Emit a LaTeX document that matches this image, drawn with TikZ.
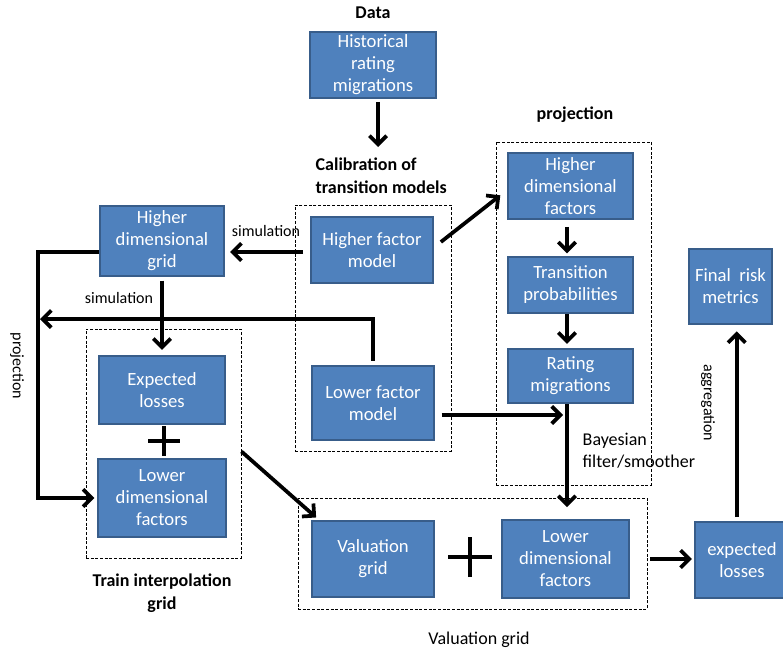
\documentclass[tikz,border=0pt]{standalone}
\usepackage{fontspec}
\setmainfont{Carlito}
\usetikzlibrary{arrows.meta}
\definecolor{blkfill}{RGB}{79,129,189}
\definecolor{blkedge}{RGB}{56,93,138}

\begin{document}
\begin{tikzpicture}[x=0.75pt,y=-0.75pt,
    blk/.style={draw=blkedge,fill=blkfill,line width=1.3pt,text=white,align=center,
        inner sep=0pt,font=\fontsize{14}{16.5}\selectfont},
    grp/.style={draw,dash pattern=on 2.2pt off 1.3pt,line width=0.7pt,inner sep=0pt},
    flow/.style={line width=2.8pt,-{Straight Barb[length=6.5pt,width=13pt]}},
    ttl/.style={font=\bfseries\fontsize{13.5}{17}\selectfont,align=left},
    lbl/.style={font=\fontsize{12}{14}\selectfont},
    txt/.style={font=\fontsize{13.5}{16.5}\selectfont,align=left}]
\useasboundingbox (0,0) rectangle (783,653);

% data and calibration
\node[ttl] (data) at (373,13) {Data};
\node[blk,minimum width=94pt,minimum height=50pt] (hist) at (373,65) {Historical\\rating\\migrations};
\node[ttl,anchor=west] (calt) at (311,176) {Calibration of\\transition models};
\node[grp,minimum width=117pt,minimum height=184.5pt] (cal) at (373,328) {};
\node[blk,minimum width=92pt,minimum height=50pt] (hfm) at (372,250) {Higher factor\\model};
\node[blk,minimum width=91.5pt,minimum height=56pt] (lfm) at (373,403) {Lower factor\\model};

% projection
\node[ttl] (projt) at (575,115) {projection};
\node[grp,minimum width=116.25pt,minimum height=257.25pt] (proj) at (573.5,313.5) {};
\node[blk,minimum width=94pt,minimum height=50pt] (hdf) at (570.5,186) {Higher\\dimensional\\factors};
\node[blk,minimum width=94pt,minimum height=42pt] (tp) at (570.5,285) {Transition\\probabilities};
\node[blk,minimum width=94pt,minimum height=41pt] (rm) at (570.5,376) {Rating\\migrations};
\coordinate (jn) at (567,415);
\node[txt,anchor=west] (bayes) at (578,451) {Bayesian\\filter/smoother};

% train interpolation grid
\node[blk,minimum width=93pt,minimum height=52pt] (hdg) at (162,241) {Higher\\dimensional\\grid};
\node[lbl] (sim1) at (266,231) {simulation};
\node[lbl] (sim2) at (119,298) {simulation};
\node[lbl,rotate=-90] (projl) at (17,366) {projection};
\coordinate (pl) at (38,252);
\coordinate (fb) at (40,319);
\node[grp,minimum width=116.25pt,minimum height=171.75pt] (train) at (163.5,443.5) {};
\node[blk,minimum width=94pt,minimum height=51pt] (el) at (162,390) {Expected\\losses};
\node[blk,minimum width=96pt,minimum height=58.5pt] (ldf) at (162,498) {Lower\\dimensional\\factors};
\coordinate (p1) at (164,441);
\node[ttl,align=center] (traint) at (162,593) {Train interpolation\\grid};

% valuation
\node[grp,minimum width=261.75pt,minimum height=83.25pt] (val) at (472.5,553.5) {};
\node[blk,minimum width=92pt,minimum height=57pt] (vg) at (373,559) {Valuation\\grid};
\node[blk,minimum width=95pt,minimum height=58.5pt] (ldfb) at (565.5,559) {Lower\\dimensional\\factors};
\coordinate (p2) at (470,557);
\node[txt] (valt) at (479,640) {Valuation grid};
\node[blk,minimum width=71pt,minimum height=57pt] (exl) at (742,560) {expected\\losses};
\node[blk,minimum width=62pt,minimum height=56pt] (frm) at (730.5,286.5) {Final\ \ risk\\metrics};
\node[lbl,rotate=-90] (aggl) at (708,403) {aggregation};

\draw[flow,shorten <=2pt] (hist.south -| 378,0) -- (378,147);
\draw[flow,shorten <=5pt,shorten >=4pt] (hfm.west |- 0,252) -- (hdg.east |- 0,252);
\draw[flow] ([xshift=5pt,yshift=6pt]hfm.east) -- ([xshift=-5pt,yshift=-7pt]hdf.west);
\draw[flow,shorten <=3pt,shorten >=4pt] (hdg.south) -- (el.north);
\draw[flow,shorten >=2pt] (hdg.west |- pl) -- (pl) |- (ldf.west);
\draw[flow] ([yshift=3pt]lfm.north) |- (fb);
\draw[flow,shorten <=5pt,shorten >=2pt] (hdf.south -| jn) -- (tp.north -| jn);
\draw[flow,shorten >=3pt] (tp.south -| jn) -- (rm.north -| jn);
\draw[flow] ([xshift=5pt]lfm.east |- jn) -- ([xshift=-3pt]jn);
\draw[flow] (rm.south -| jn) -- ([yshift=9pt]ldfb.north -| jn);
\draw[flow] ([yshift=-6pt]train.east) -- ([xshift=4pt,yshift=2pt]vg.north west);
\draw[flow,shorten <=2pt,shorten >=1.5pt] (ldfb.east -| val.east) -- (ldfb.east -| exl.west);
\draw[flow,shorten <=3pt,shorten >=5pt] ([xshift=-4pt]exl.north) -- ([xshift=-4pt]exl.north |- frm.south);
\draw[line width=3.2pt] ([xshift=-12pt]p1) -- ([xshift=12pt]p1) ([yshift=-11pt]p1) -- ([yshift=11pt]p1);
\draw[line width=3.2pt] ([xshift=-16.5pt]p2) -- ([xshift=16.5pt]p2) ([yshift=-15pt]p2) -- ([yshift=15pt]p2);
\end{tikzpicture}
\end{document}
